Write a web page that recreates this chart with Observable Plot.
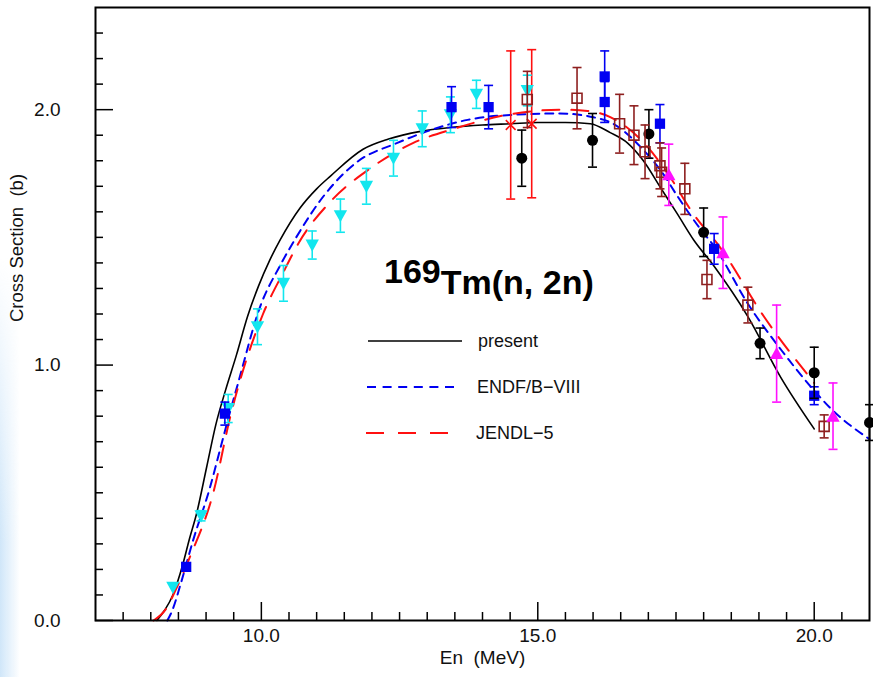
<!DOCTYPE html>
<html><head><meta charset="utf-8">
<script src="https://cdn.jsdelivr.net/npm/d3@7"></script>
<script src="https://cdn.jsdelivr.net/npm/@observablehq/plot@0.6"></script>
<style>
html,body{margin:0;padding:0;background:#fff;}
#wrap{position:relative;width:873px;height:677px;overflow:hidden;}
#edge{position:absolute;left:0;top:0;width:20px;height:677px;background:linear-gradient(to right, rgba(200,226,248,0.85), rgba(255,255,255,0));-webkit-mask-image:linear-gradient(to bottom, transparent 38%, #000 80%);mask-image:linear-gradient(to bottom, transparent 38%, #000 80%);pointer-events:none;}
svg{display:block;}
</style></head><body><div id="wrap"></div>
<script>
// ---- evaluated curves ----
const presentE  = [8.11, 8.25, 8.40, 8.58, 8.70, 8.83, 9.01, 9.18, 9.35, 9.55, 9.75, 9.95, 10.15, 10.34, 10.70, 11.00, 11.25, 11.84, 12.30, 12.88, 13.42, 14.00, 14.51, 15.00, 15.50, 15.95, 16.31, 16.62, 16.91, 17.22, 17.53, 17.82, 18.18, 18.80, 19.40, 20.00];
const presentXS = [0.00, 0.04, 0.10, 0.22, 0.32, 0.42, 0.60, 0.77, 0.90, 1.04, 1.19, 1.31, 1.41, 1.49, 1.615, 1.69, 1.74, 1.845, 1.885, 1.915, 1.93, 1.94, 1.945, 1.95, 1.95, 1.945, 1.91, 1.87, 1.80, 1.695, 1.59, 1.49, 1.39, 1.19, 0.95, 0.75];
const endfE  = [8.30, 8.39, 8.55, 8.76, 9.07, 9.29, 9.40, 9.58, 9.98, 10.34, 10.63, 11.12, 11.73, 12.46, 13.06, 13.73, 14.56, 15.40, 16.01, 16.32, 16.92, 17.23, 17.53, 17.95, 18.19, 18.80, 19.40, 20.00, 20.30, 21.00];
const endfXS = [0.00, 0.04, 0.15, 0.31, 0.52, 0.70, 0.79, 0.93, 1.23, 1.39, 1.50, 1.66, 1.795, 1.87, 1.92, 1.96, 1.98, 1.985, 1.97, 1.95, 1.84, 1.76, 1.66, 1.53, 1.465, 1.24, 1.06, 0.90, 0.83, 0.71];
const jendlE  = [8.05, 8.29, 8.45, 8.71, 9.13, 9.44, 10.03, 10.39, 10.68, 11.25, 11.97, 12.75, 13.48, 14.45, 15.41, 15.90, 16.32, 16.92, 17.35, 17.82, 18.30, 19.09, 20.00];
const jendlXS = [0.00, 0.05, 0.12, 0.25, 0.50, 0.80, 1.20, 1.36, 1.48, 1.64, 1.77, 1.87, 1.925, 1.98, 2.00, 1.995, 1.97, 1.87, 1.75, 1.59, 1.46, 1.19, 0.93];

// ---- experimental data (E, sigma, error) ----
const cyanE   = [8.40, 8.91, 9.40, 9.93, 10.40, 10.92, 11.43, 11.90, 12.39, 12.91, 13.42, 13.89, 14.81];
const cyanV   = [0.13, 0.41, 0.83, 1.15, 1.32, 1.47, 1.585, 1.70, 1.81, 1.925, 1.98, 2.06, 2.075];
const cyanErr = [0.00, 0.02, 0.055, 0.07, 0.07, 0.055, 0.065, 0.07, 0.07, 0.07, 0.07, 0.055, 0.06];

const blueE   = [8.64, 9.34, 13.44, 14.11, 16.21, 16.21, 17.21, 18.19, 20.00];
const blueV   = [0.21, 0.81, 2.01, 2.01, 2.13, 2.03, 1.945, 1.455, 0.88];
const blueErr = [0.00, 0.045, 0.08, 0.085, 0.10, 0.08, 0.075, 0.06, 0.035];

const blackE   = [14.71, 15.99, 17.01, 18.00, 19.02, 20.00, 21.00];
const blackV   = [1.81, 1.88, 1.905, 1.52, 1.085, 0.97, 0.775];
const blackErr = [0.11, 0.105, 0.095, 0.095, 0.06, 0.10, 0.07];

const brownE   = [14.81, 15.71, 16.48, 16.74, 16.94, 17.21, 17.24, 17.66, 18.06, 18.80, 20.18];
const brownV   = [2.04, 2.045, 1.945, 1.90, 1.835, 1.78, 1.755, 1.69, 1.335, 1.235, 0.76];
const brownErr = [0.11, 0.12, 0.115, 0.115, 0.105, 0.09, 0.095, 0.10, 0.075, 0.07, 0.045];

const magentaE   = [17.37, 18.35, 19.32, 20.34];
const magentaV   = [1.745, 1.44, 1.045, 0.80];
const magentaErr = [0.12, 0.14, 0.19, 0.13];

const redE   = [14.51, 14.89];
const redV   = [1.94, 1.945];
const redErr = [0.29, 0.29];

// ---- axis ticks & text ----
const xMajor = [10, 15, 20];
const xMinor = [7.5, 8, 8.5, 9, 9.5, 10.5, 11, 11.5, 12, 12.5, 13, 13.5, 14, 14.5, 15.5, 16, 16.5, 17, 17.5, 18, 18.5, 19, 19.5, 20.5];
const yMajor = [0, 1, 2];
const yMinor = [0.1, 0.2, 0.3, 0.4, 0.5, 0.6, 0.7, 0.8, 0.9, 1.1, 1.2, 1.3, 1.4, 1.5, 1.6, 1.7, 1.8, 1.9, 2.1, 2.2, 2.3];
const xLabel = "En\u00a0 (MeV)";
const yLabel = "Cross Section\u00a0 (b)";
const titleMass = "169";
const titleReaction = "Tm(n, 2n)";
const legendLabels = ["present", "ENDF/B\u2212VIII", "JENDL\u22125"];

// ---- build tables ----
const zipCurve = (E, V) => E.map((e, i) => ({e, v: V[i]}));
const zipPts = (E, V, S) => E.map((e, i) => ({e, v: V[i], s: S[i]}));
const present = zipCurve(presentE, presentXS);
const endf = zipCurve(endfE, endfXS);
const jendl = zipCurve(jendlE, jendlXS);
const cyan = zipPts(cyanE, cyanV, cyanErr);
const blue = zipPts(blueE, blueV, blueErr);
const black = zipPts(blackE, blackV, blackErr);
const brown = zipPts(brownE, brownV, brownErr);
const magenta = zipPts(magentaE, magentaV, magentaErr);
const redx = zipPts(redE, redV, redErr);

const FONT = "'Liberation Sans', Arial, Helvetica, sans-serif";
const C = {cyan: "#12e6ee", blue: "#0000f2", black: "#000000", brown: "#8e1f1f", magenta: "#ff10ff", red: "#ff1010"};

const capSym = {draw(ctx, size) { const r = Math.sqrt(size / Math.PI); ctx.moveTo(-r, 0); ctx.lineTo(r, 0); }};
const triDown = {draw(ctx, size) { const r = Math.sqrt(size / Math.PI); ctx.moveTo(-r * 1.15, -r * 0.95); ctx.lineTo(r * 1.15, -r * 0.95); ctx.lineTo(0, r * 1.15); ctx.closePath(); }};
const triUp = {draw(ctx, size) { const r = Math.sqrt(size / Math.PI); ctx.moveTo(-r * 1.15, r * 0.95); ctx.lineTo(r * 1.15, r * 0.95); ctx.lineTo(0, -r * 1.15); ctx.closePath(); }};

function errMarks(data, color) {
  const d = data.filter(p => p.s > 0);
  return [
    Plot.ruleX(d, {x: "e", y1: p => p.v - p.s, y2: p => p.v + p.s, stroke: color, strokeWidth: 1.6}),
    Plot.dot(d, {x: "e", y: p => p.v - p.s, symbol: capSym, r: 4.5, stroke: color, strokeWidth: 1.6, fill: "none"}),
    Plot.dot(d, {x: "e", y: p => p.v + p.s, symbol: capSym, r: 4.5, stroke: color, strokeWidth: 1.6, fill: "none"})
  ];
}

const chart = Plot.plot({
  width: 873, height: 677,
  marginLeft: 95, marginRight: 4, marginTop: 7, marginBottom: 57,
  style: {fontFamily: FONT, background: "transparent", overflow: "visible"},
  x: {domain: [7, 21], axis: null},
  y: {domain: [0, 2.4], axis: null},
  marks: [
    // ticks (inward)
    Plot.axisX(xMajor, {anchor: "bottom", tickSize: 18, dy: -18, fill: "none", stroke: "black", strokeWidth: 1.5}),
    Plot.axisX(xMinor, {anchor: "bottom", tickSize: 8, dy: -8, fill: "none", stroke: "black", strokeWidth: 1.5}),
    Plot.axisY(yMajor, {anchor: "left", tickSize: 18, dx: 18, fill: "none", stroke: "black", strokeWidth: 1.5}),
    Plot.axisY(yMinor, {anchor: "left", tickSize: 8, dx: 8, fill: "none", stroke: "black", strokeWidth: 1.5}),
    // tick labels
    Plot.text(xMajor, {x: d => d, text: d => d.toFixed(1), frameAnchor: "bottom", dy: 21, fontSize: 19, fill: "#111"}),
    Plot.text(yMajor, {y: d => d, text: d => d.toFixed(1), frameAnchor: "left", dx: -35, textAnchor: "end", fontSize: 19, fill: "#111"}),
    Plot.text([xLabel], {text: d => d, frameAnchor: "bottom", dy: 43, fontSize: 19, fill: "#111"}),
    Plot.text([yLabel], {text: d => d, frameAnchor: "left", dx: -78, dy: 8, rotate: -90, fontSize: 18.5, fill: "#111"}),
    // curves
    Plot.line(present, {x: "e", y: "v", stroke: C.black, strokeWidth: 1.6, curve: "monotone-x"}),
    Plot.line(endf, {x: "e", y: "v", stroke: C.blue, strokeWidth: 2, strokeDasharray: "8,6", curve: "monotone-x"}),
    Plot.line(jendl, {x: "e", y: "v", stroke: C.red, strokeWidth: 2, strokeDasharray: "17,12", curve: "monotone-x"}),
    // experimental points
    ...errMarks(redx, C.red),
    Plot.dot(redx, {x: "e", y: "v", symbol: "times", r: 4.5, stroke: C.red, strokeWidth: 1.6}),
    ...errMarks(cyan, C.cyan),
    Plot.dot(cyan, {x: "e", y: "v", symbol: triDown, r: 5.8, fill: C.cyan}),
    ...errMarks(blue, C.blue),
    Plot.dot(blue, {x: "e", y: "v", symbol: "square", r: 5.8, fill: C.blue}),
    ...errMarks(black, C.black),
    Plot.dot(black, {x: "e", y: "v", r: 5.5, fill: C.black}),
    ...errMarks(brown, C.brown),
    Plot.dot(brown, {x: "e", y: "v", symbol: "square", r: 5.6, fill: "none", stroke: C.brown, strokeWidth: 1.6}),
    ...errMarks(magenta, C.magenta),
    Plot.dot(magenta, {x: "e", y: "v", symbol: triUp, r: 5.8, fill: C.magenta}),
    Plot.frame({stroke: "black", strokeWidth: 2})
  ]
});

const wrap = document.getElementById("wrap");
wrap.appendChild(chart);
const edge = document.createElement("div"); edge.id = "edge"; wrap.appendChild(edge);

// title and legend overlay
const svg = d3.select(chart);
const title = svg.append("text").attr("font-family", FONT).attr("font-weight", "bold").attr("font-size", 34).attr("fill", "#000")
  .attr("text-anchor", "start").attr("x", 384).attr("y", 294);
title.append("tspan").attr("dy", -11).text(titleMass);
title.append("tspan").attr("dy", 11).text(titleReaction);

const legendStyles = [
  {stroke: C.black, dash: null, width: 1.6},
  {stroke: C.blue, dash: "9,6.6", width: 2},
  {stroke: C.red, dash: "18,14", width: 2}
];
const lg = svg.append("g").attr("font-family", FONT).attr("font-size", 18).attr("fill", "#111").attr("text-anchor", "start");
legendLabels.forEach((label, i) => {
  const y = 341 + i * 46;
  const st = legendStyles[i];
  lg.append("line").attr("x1", 368 - i).attr("x2", 462 - i * 6).attr("y1", y).attr("y2", y)
    .attr("stroke", st.stroke).attr("stroke-width", st.width).attr("stroke-dasharray", st.dash);
  lg.append("text").attr("x", 478 - i).attr("y", y).attr("dy", "0.35em").text(label);
});
</script>
</body></html>
